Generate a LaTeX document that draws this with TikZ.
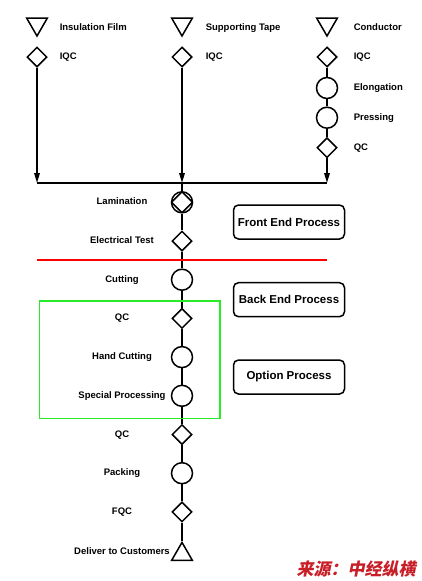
\documentclass[tikz,border=0pt]{standalone}
\usepackage{fontspec}
\setmainfont{Liberation Sans}
\newfontfamily\cjkfont[FakeSlant=0.2]{Noto Sans CJK SC}
\usepackage{tikz}
\usetikzlibrary{shapes.geometric,positioning,arrows.meta}
\definecolor{markred}{RGB}{200,30,40}
\definecolor{optgreen}{RGB}{40,235,40}
\tikzset{
node distance=38.7pt, % spacing of the main line
every node/.style={font=\bfseries\fontsize{9.5}{11}\selectfont},
op/.style={circle,draw,minimum size=21pt,inner sep=0pt}, % operation
insp/.style={diamond,draw,minimum size=20pt,inner sep=0pt}, % inspection
store/.style={regular polygon,regular polygon sides=3,draw,minimum size=24pt,inner sep=0pt},
lam/.style={op,path picture={
    \draw (path picture bounding box.north) -- (path picture bounding box.east)
      -- (path picture bounding box.south) -- (path picture bounding box.west) -- cycle;}},
lbl/.style={text height=7pt,text depth=2pt,inner sep=0pt},
stage/.style={draw,rounded corners=5pt,minimum width=111pt,minimum height=34pt,
    font=\bfseries\fontsize{11.5}{13}\selectfont},
}

\begin{document}
\begin{tikzpicture}[x=1pt,y=-1pt,line width=1.5pt,on grid,>={Triangle[length=10pt,width=5.5pt]}]
   \useasboundingbox (0,0) rectangle (421,581);
   % raw materials
   \node[store,shape border rotate=180] (l_1) at (37,24) {};
   \node[insp] (l_2) at (37,57) {};
   \node[store,shape border rotate=180] (c_1) at (182,24) {};
   \node[insp] (c_2) at (182,57) {};
   \node[store,shape border rotate=180] (r_1) at (327,24) {};
   \node[insp] (r_2) at (327,57) {};
   \node[op] (r_3) [below=31pt of r_2] {};
   \node[op] (r_4) [below=29.7pt of r_3] {};
   \node[insp] (r_5) [below=30pt of r_4] {};
   \node[lbl] (lt_1) [right=22pt of l_1,anchor=west,yshift=-3.5pt] {Insulation Film};
   \node[lbl] (lt_2) [right=22pt of l_2,anchor=west] {IQC};
   \node[lbl] (ct_1) [right=23pt of c_1,anchor=west,yshift=-3.5pt] {Supporting Tape};
   \node[lbl] (ct_2) [right=23pt of c_2,anchor=west] {IQC};
   \node[lbl] (rt_1) [right=26pt of r_1,anchor=west,yshift=-3.5pt] {Conductor};
   \node[lbl] (rt_2) [right=26pt of r_2,anchor=west] {IQC};
   \node[lbl] (rt_3) [right=26pt of r_3,anchor=west] {Elongation};
   \node[lbl] (rt_4) [right=26pt of r_4,anchor=west] {Pressing};
   \node[lbl] (rt_5) [right=26pt of r_5,anchor=west] {QC};
   % main line
   \node[lam] (m_1) at (182,202.3) {};
   \node[insp] (m_2) [below=of m_1] {};
   \node[op] (m_3) [below=of m_2] {};
   \node[insp] (m_4) [below=of m_3] {};
   \node[op] (m_5) [below=of m_4] {};
   \node[op] (m_6) [below=of m_5] {};
   \node[insp] (m_7) [below=of m_6] {};
   \node[op] (m_8) [below=of m_7] {};
   \node[insp] (m_9) [below=of m_8] {};
   \node[store] (m_10) [below=42.5pt of m_9] {};
   \node[lbl] (mt_1) [left=60pt of m_1] {Lamination};
   \node[lbl] (mt_2) [left=60pt of m_2] {Electrical Test};
   \node[lbl] (mt_3) [left=60pt of m_3] {Cutting};
   \node[lbl] (mt_4) [left=60pt of m_4] {QC};
   \node[lbl] (mt_5) [left=60pt of m_5] {Hand Cutting};
   \node[lbl] (mt_6) [left=60pt of m_6] {Special Processing};
   \node[lbl] (mt_7) [left=60pt of m_7] {QC};
   \node[lbl] (mt_8) [left=60pt of m_8] {Packing};
   \node[lbl] (mt_9) [left=60pt of m_9] {FQC};
   \node[lbl] (mt_10) [left=60pt of m_10,yshift=2pt] {Deliver to Customers};
   % stages
   \node[stage] (s_1) at (289,222) {Front End Process};
   \node[stage] (s_2) [below=77.7pt of s_1] {Back End Process};
   \node[stage] (s_3) [below=77.3pt of s_2] {Option Process};
   % joins
   \coordinate (j_1) at (37,183);
   \coordinate (j_2) at (182,183);
   \coordinate (j_3) at (327,183);
   \begin{scope}[line width=1.8pt]
   \draw[->] (l_2) -- (j_1);
   \draw[->] (c_2) -- (j_2);
   \draw[->] (r_5) -- (j_3);
   \draw (j_2) -- (m_1);
   \draw (r_2) -- (r_3) -- (r_4) -- (r_5);
   \draw (m_1) -- (m_2) -- (m_3) -- (m_4) -- (m_5) -- (m_6) -- (m_7) -- (m_8) -- (m_9) -- (m_10);
   \end{scope}
   \draw (j_1) -- (j_3);
   \draw[red,line width=1.3pt] (37,260) -- (327,260);
   \draw[optgreen,line width=1.3pt] (39.5,301) rectangle (220,418.5);
   \node[text=markred,font=\cjkfont\bfseries\fontsize{17}{17}\selectfont] (src) at (356,569) {来源：中经纵横};
\end{tikzpicture}
\end{document}
